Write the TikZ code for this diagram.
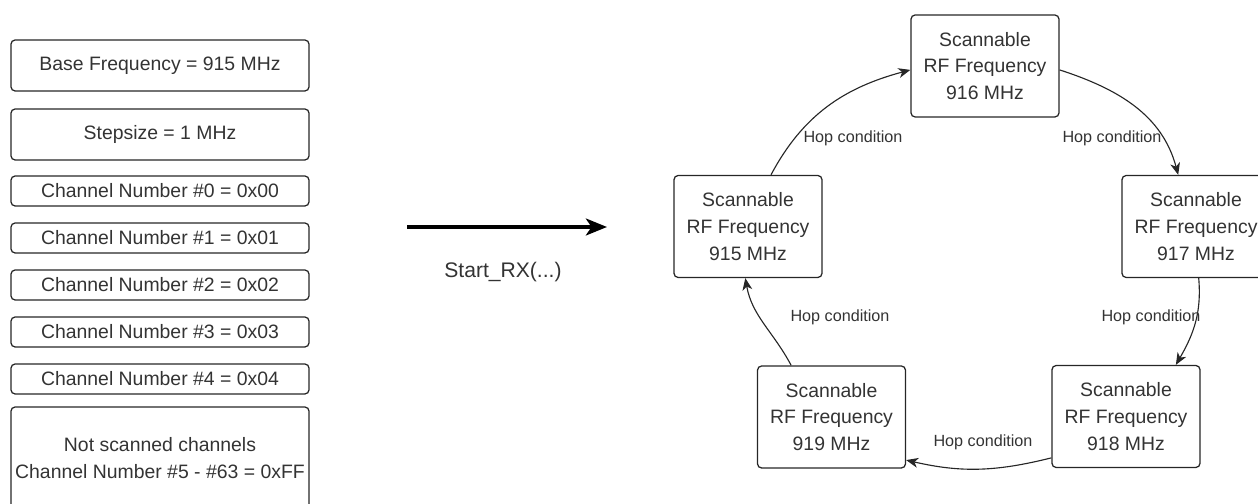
\documentclass[tikz,border=0pt]{standalone}
\usepackage{fontspec}
\setmainfont{Liberation Sans}
\usetikzlibrary{arrows.meta}

\begin{document}
\begin{tikzpicture}[x=0.025cm,y=0.025cm,
  cfgbox/.style={draw=black!85,line width=0.9pt,rounded corners=3pt,minimum width=7.45cm,
    inner sep=0pt,align=center,text=black!80,font=\fontsize{13.8}{18.9}\selectfont},
  freqbox/.style={draw=black!85,line width=0.9pt,rounded corners=3pt,minimum width=3.7cm,
    minimum height=2.55cm,inner sep=0pt,align=center,text=black!80,font=\fontsize{13.8}{18.9}\selectfont},
  hop/.style={-{Stealth[length=8.5pt,width=7pt,inset=2.5pt]},line width=0.8pt,black!85},
  hoplabel/.style={text=black!80,font=\fontsize{11.5}{13}\selectfont}]
  \useasboundingbox (0,0) rectangle (1258,504);
  % channel table
  \node[cfgbox,minimum height=1.275cm] (base) at (160,438.5) {Base Frequency = 915 MHz};
  \node[cfgbox,minimum height=1.275cm] (stepsize) at (160,369.5) {Stepsize = 1 MHz};
  \foreach \i in {0,...,4}
    \node[cfgbox,minimum height=0.75cm] (ch\i) at (160,313-47*\i) {Channel Number \#\i{} = 0x0\i};
  \node[cfgbox,minimum height=2.55cm] (rest) at (160,46) {Not scanned channels\\Channel Number \#5 - \#63 = 0xFF};
  % start
  \coordinate (rxfrom) at (407,277);
  \coordinate (rxto) at (607,277);
  \draw[-{Stealth[length=15pt,width=12pt,inset=4pt]},line width=2.6pt] (rxfrom) -- (rxto);
  \node[text=black!80,font=\fontsize{15}{18}\selectfont] (rxlabel) at (503,232) {Start\_RX(...)};
  % hopping ring
  \node[freqbox] (f915) at (748,277.5) {Scannable\\RF Frequency\\915 MHz};
  \node[freqbox] (f916) at (985,438) {Scannable\\RF Frequency\\916 MHz};
  \node[freqbox] (f917) at (1196,277.5) {Scannable\\RF Frequency\\917 MHz};
  \node[freqbox] (f918) at (1126,87.5) {Scannable\\RF Frequency\\918 MHz};
  \node[freqbox] (f919) at (831.5,87) {Scannable\\RF Frequency\\919 MHz};
  \draw[hop] (f915.66) to[out=62,in=195] (f916.183);
  \draw[hop] (f916.357) to[out=-18,in=105] (f917.109);
  \draw[hop] (f917.-87) to[out=-85,in=60] (f918.46);
  \draw[hop] (f918.209) to[out=194,in=-13] (f919.-30);
  \draw[hop] (f919.128) to[out=118,in=-80] (f915.-93);
  \node[hoplabel] (hop1) at (853,366) {Hop condition};
  \node[hoplabel] (hop2) at (1112,366) {Hop condition};
  \node[hoplabel] (hop3) at (1151,187) {Hop condition};
  \node[hoplabel] (hop4) at (983,62) {Hop condition};
  \node[hoplabel] (hop5) at (840,187) {Hop condition};
\end{tikzpicture}
\end{document}
